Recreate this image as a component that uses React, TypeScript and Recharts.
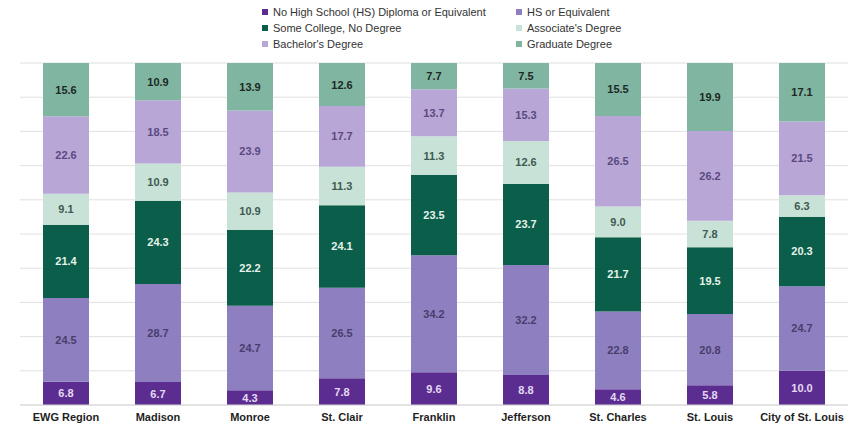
import React from 'react';
import { BarChart, Bar, XAxis, YAxis, CartesianGrid, LabelList } from 'recharts';

const regions = [
  'EWG Region',
  'Madison',
  'Monroe',
  'St. Clair',
  'Franklin',
  'Jefferson',
  'St. Charles',
  'St. Louis',
  'City of St. Louis',
];

const noDiploma = [6.8, 6.7, 4.3, 7.8, 9.6, 8.8, 4.6, 5.8, 10.0];
const hsEquivalent = [24.5, 28.7, 24.7, 26.5, 34.2, 32.2, 22.8, 20.8, 24.7];
const someCollege = [21.4, 24.3, 22.2, 24.1, 23.5, 23.7, 21.7, 19.5, 20.3];
const associates = [9.1, 10.9, 10.9, 11.3, 11.3, 12.6, 9.0, 7.8, 6.3];
const bachelors = [22.6, 18.5, 23.9, 17.7, 13.7, 15.3, 26.5, 26.2, 21.5];
const graduate = [15.6, 10.9, 13.9, 12.6, 7.7, 7.5, 15.5, 19.9, 17.1];

const gridTicks = [0, 0.1, 0.2, 0.3, 0.4, 0.5, 0.6, 0.7, 0.8, 0.9, 1];

const FONT = '"Liberation Sans", Arial, Helvetica, sans-serif';

// stacking order, bottom to top
const SERIES = [
  { key: 'noDiploma', name: 'No High School (HS) Diploma or Equivalent', values: noDiploma, fill: '#5c2d91', text: '#e4daf3' },
  { key: 'hsEquivalent', name: 'HS or Equivalent', values: hsEquivalent, fill: '#8e80c0', text: '#4a3d6c' },
  { key: 'someCollege', name: 'Some College, No Degree', values: someCollege, fill: '#0b5e49', text: '#e6f2ec' },
  { key: 'associates', name: "Associate's Degree", values: associates, fill: '#c8e2d7', text: '#3e5a51' },
  { key: 'bachelors', name: "Bachelor's Degree", values: bachelors, fill: '#b8a6d7', text: '#5a4a80' },
  { key: 'graduate', name: 'Graduate Degree', values: graduate, fill: '#80b6a1', text: '#1e2824' },
];

// legend reads row by row in two columns
const LEGEND_ORDER = ['noDiploma', 'hsEquivalent', 'someCollege', 'associates', 'bachelors', 'graduate'];

const data = regions.map((region, i) => {
  const row: Record<string, string | number> = { region };
  SERIES.forEach((s) => {
    row[s.key] = s.values[i];
  });
  return row;
});

const makeLabel = (values: number[], color: string) => (props: any) => {
  const { x, y, width, height, index } = props;
  const v = values[index];
  if (v == null) return null;
  return (
    <text
      x={Number(x) + Number(width) / 2}
      y={Number(y) + Number(height) / 2}
      textAnchor="middle"
      dominantBaseline="central"
      fill={color}
      fontFamily={FONT}
      fontSize={11}
      fontWeight={700}
    >
      {v.toFixed(1)}
    </text>
  );
};

function EducationLegend() {
  return (
    <div
      style={{
        position: 'absolute',
        top: 6,
        left: 262,
        width: 420,
        display: 'grid',
        gridTemplateColumns: '254px 160px',
        rowGap: 4,
        fontFamily: FONT,
        fontSize: 11,
        color: '#333',
        lineHeight: '12px',
      }}
    >
      {LEGEND_ORDER.map((k) => {
        const s = SERIES.find((d) => d.key === k)!;
        return (
          <div key={k} style={{ display: 'flex', alignItems: 'center', whiteSpace: 'nowrap' }}>
            <span style={{ width: 6, height: 6, background: s.fill, marginRight: 5, display: 'inline-block' }} />
            <span>{s.name}</span>
          </div>
        );
      })}
    </div>
  );
}

export default function App() {
  return (
    <div style={{ position: 'absolute', left: 0, top: 0, width: 849, height: 425, background: '#fff' }}>
      <EducationLegend />
      <BarChart
        width={849}
        height={425}
        data={data}
        stackOffset="expand"
        margin={{ top: 63, right: 1, bottom: 0, left: 20 }}
      >
        <CartesianGrid vertical={false} stroke="#e0e0e0" />
        <XAxis
          dataKey="region"
          axisLine={{ stroke: '#d6d6d6' }}
          tickLine={false}
          height={20}
          tickMargin={2}
          interval={0}
          tick={{ fill: '#1f1f1f', fontSize: 11, fontWeight: 700, fontFamily: FONT }}
        />
        <YAxis hide domain={[0, 1]} ticks={gridTicks} />
        {SERIES.map((s) => (
          <Bar
            key={s.key}
            dataKey={s.key}
            name={s.name}
            stackId="edu"
            fill={s.fill}
            barSize={46}
            isAnimationActive={false}
          >
            <LabelList dataKey={s.key} content={makeLabel(s.values, s.text)} />
          </Bar>
        ))}
      </BarChart>
    </div>
  );
}
